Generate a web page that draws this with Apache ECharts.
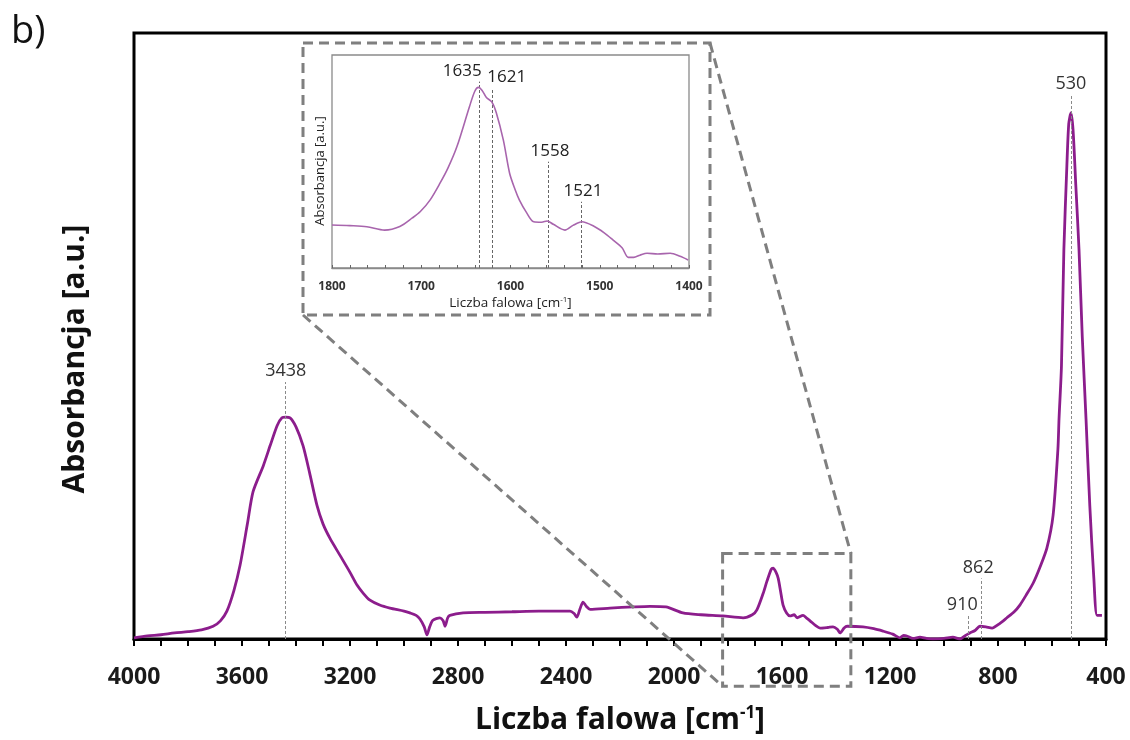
<!DOCTYPE html>
<html>
<head>
<meta charset="utf-8">
<script src="https://cdn.jsdelivr.net/npm/echarts@6/dist/echarts.min.js"></script>
<style>html,body{margin:0;padding:0;background:#fff}#c{width:1130px;height:740px}</style>
</head>
<body>
<div id="c"></div>
<script>
// Main FTIR spectrum: wavenumber [cm-1] and absorbance [a.u.]
const mainWavenumber = [4000,3950,3900,3850,3800,3750,3707,3680,3656,3630,3607,3580,3559,3521,3495,3470,3452,3438,3422,3400,3374,3350,3322,3300,3274,3237,3200,3174,3150,3126,3090,3052,3000,2978,2955,2941,2925,2915,2905,2893,2867,2855,2848,2838,2830,2781,2700,2600,2500,2385,2370,2360,2348,2337,2325,2311,2237,2150,2089,2030,1967,1900,1819,1744,1710,1693,1670,1656,1640,1633,1622,1614,1605,1596,1583,1570,1555,1544,1522,1510,1496,1475,1459,1430,1411,1395,1385,1370,1359,1300,1260,1226,1190,1163,1150,1137,1115,1089,1065,1041,1000,967,941,920,904,885,867,845,822,795,767,740,719,695,670,645,619,596,578,574,565,556,545,538,530,522,512,500,488,474,460,445,433,415];
const mainAbsorbance = [0.002,0.005,0.007,0.010,0.012,0.015,0.021,0.030,0.046,0.080,0.122,0.190,0.243,0.286,0.320,0.352,0.365,0.366,0.365,0.350,0.319,0.275,0.220,0.190,0.166,0.138,0.110,0.089,0.075,0.064,0.056,0.051,0.046,0.043,0.039,0.033,0.020,0.007,0.020,0.031,0.035,0.030,0.021,0.035,0.039,0.043,0.044,0.045,0.046,0.046,0.042,0.036,0.050,0.061,0.054,0.049,0.051,0.053,0.054,0.053,0.043,0.040,0.038,0.035,0.040,0.048,0.075,0.095,0.115,0.117,0.110,0.100,0.078,0.056,0.043,0.038,0.040,0.035,0.039,0.035,0.030,0.022,0.018,0.019,0.020,0.016,0.010,0.018,0.021,0.020,0.017,0.013,0.008,0.002,0.006,0.005,0.001,0.003,0.001,0.000,0.001,0.003,0.000,0.006,0.010,0.014,0.021,0.020,0.018,0.025,0.035,0.045,0.056,0.073,0.092,0.118,0.150,0.204,0.314,0.363,0.450,0.643,0.780,0.850,0.868,0.840,0.750,0.643,0.500,0.363,0.220,0.100,0.039,0.039];

// Inset (1800-1400 cm-1)
const insetWavenumber = [1800,1780,1761,1741,1724,1710,1701,1690,1679,1670,1660,1646,1640,1636,1632,1627,1621,1616,1608,1601,1595,1590,1582,1574,1565,1559,1552,1539,1530,1520,1507,1495,1485,1475,1468,1462,1455,1447,1435,1421,1410,1401];
const insetAbsorbance = [0.202,0.199,0.194,0.178,0.195,0.235,0.265,0.320,0.398,0.470,0.570,0.757,0.830,0.848,0.835,0.800,0.780,0.730,0.600,0.445,0.370,0.319,0.260,0.217,0.215,0.221,0.205,0.178,0.200,0.217,0.197,0.165,0.131,0.095,0.050,0.050,0.060,0.069,0.066,0.069,0.055,0.038];

// Peak annotations: [wavenumber, line top (absorbance units), label dx]
const mainPeaks = [[3438,0.424,0],[910,0.038,-6],[862,0.100,-3],[530,0.898,0]];
const insetPeaks = [[1635,0.875,-17],[1621,0.845,15],[1558,0.499,2],[1521,0.311,2]];

const mainTickLabels = [4000,3600,3200,2800,2400,2000,1600,1200,800,400];
const insetTickLabels = [1800,1700,1600,1500,1400];

const FONT = '"Open Sans", "Noto Sans", sans-serif';

const mainData = mainWavenumber.map((w,i)=>[w, mainAbsorbance[i]]);
const insetData = insetWavenumber.map((w,i)=>[w, insetAbsorbance[i]]);

function peakLines(peaks, fontSize, color){
  return peaks.map(p => [
    {coord:[p[0],0]},
    {coord:[p[0],p[1]], label:{show:true, position:'end', formatter:String(p[0]), offset:[p[2],0], fontSize:fontSize, color:color, fontFamily:FONT, distance:2}}
  ]);
}

const chart = echarts.init(document.getElementById('c'), null, {renderer:'canvas'});
const option = {
  backgroundColor:'#ffffff',
  animation:false,
  grid:[
    {left:134, top:33, right:24, bottom:99, show:true, borderColor:'#000', borderWidth:3, containLabel:false},
    {left:332, top:55, right:441, bottom:472, show:true, borderColor:'#8a8a8a', borderWidth:1.3, backgroundColor:'#fff', z:5}
  ],
  xAxis:[
    {type:'value', gridIndex:0, min:400, max:4000, interval:400, inverse:true,
     axisLine:{show:true, lineStyle:{color:'#000', width:3}},
     axisTick:{show:true, length:7, lineStyle:{color:'#000', width:2}},
     minorTick:{show:true, splitNumber:4, length:7, lineStyle:{color:'#000', width:2}},
     splitLine:{show:false},
     axisLabel:{show:true, margin:27, fontSize:23, fontWeight:'bold', color:'#1a1a1a', fontFamily:FONT,
       formatter: v => mainTickLabels.indexOf(v) >= 0 ? String(v) : ''},
     name:'{a|Liczba falowa [cm}{s|-1}{a|]}', nameLocation:'middle', nameGap:66,
     nameTextStyle:{rich:{a:{fontSize:30, fontWeight:'bold', color:'#111', fontFamily:FONT}, s:{fontSize:17, fontWeight:'bold', color:'#111', fontFamily:FONT, verticalAlign:'top'}}}
    },
    {type:'value', gridIndex:1, min:1400, max:1800, interval:100, inverse:true, z:6,
     axisLine:{show:true, lineStyle:{color:'#8a8a8a', width:1.3}},
     axisTick:{show:true, inside:true, length:3, lineStyle:{color:'#666', width:1}},
     minorTick:{show:true, splitNumber:5, length:3, lineStyle:{color:'#666', width:1}},
     splitLine:{show:false},
     axisLabel:{show:true, margin:13, fontSize:12, fontWeight:'bold', color:'#333', fontFamily:FONT,
       formatter: v => insetTickLabels.indexOf(v) >= 0 ? String(v) : ''},
     name:'{a|Liczba falowa [cm}{s|-1}{a|]}', nameLocation:'middle', nameGap:28,
     nameTextStyle:{rich:{a:{fontSize:13.5, color:'#222', fontFamily:FONT}, s:{fontSize:8, color:'#222', fontFamily:FONT, verticalAlign:'top'}}}
    }
  ],
  yAxis:[
    {type:'value', gridIndex:0, min:0, max:1, axisLine:{show:false}, axisTick:{show:false}, axisLabel:{show:false}, splitLine:{show:false},
     name:'Absorbancja [a.u.]', nameLocation:'middle', nameGap:44, nameRotate:90,
     nameTextStyle:{fontSize:30, fontWeight:'bold', color:'#111', fontFamily:FONT, padding:[0,46,0,0]}},
    {type:'value', gridIndex:1, min:0, max:1, z:6, axisLine:{show:false}, axisTick:{show:false}, axisLabel:{show:false}, splitLine:{show:false},
     name:'Absorbancja [a.u.]', nameLocation:'middle', nameGap:5, nameRotate:90,
     nameTextStyle:{fontSize:13, color:'#222', fontFamily:FONT, padding:[0,19,0,0]}}
  ],
  series:[
    {type:'line', xAxisIndex:0, yAxisIndex:0, data:mainData, showSymbol:false, smooth:0.25,
     lineStyle:{color:'#8c1d8c', width:2.8}, z:3,
     markLine:{silent:true, symbol:'none', animation:false,
       lineStyle:{type:[3,2], color:'#8a8a8a', width:1},
       data:peakLines(mainPeaks, 18, '#333')}},
    {type:'line', xAxisIndex:1, yAxisIndex:1, data:insetData, showSymbol:false, smooth:0.3,
     lineStyle:{color:'#a865ad', width:1.6}, z:7,
     markLine:{silent:true, symbol:'none', animation:false,
       lineStyle:{type:[3,2], color:'#666', width:1},
       data:peakLines(insetPeaks, 17, '#222')}}
  ]
};
chart.setOption(option);

// Zoom boxes and connector lines (decorations)
const p1 = chart.convertToPixel({gridIndex:0}, [1820, 0.141]);
const p2 = chart.convertToPixel({gridIndex:0}, [1345, -0.078]);
const bx0 = p1[0], by0 = p1[1], bx1 = p2[0], by1 = p2[1];
const ix0 = 303, iy0 = 43, ix1 = 710, iy1 = 315;
const dashStyle = {stroke:'#7f7f7f', lineWidth:3, lineDash:[10,6], fill:null};
chart.setOption({
  graphic:[
    {type:'text', left:11, top:13, style:{text:'b)', fontSize:38, fontFamily:FONT, fill:'#111'}},
    {type:'rect', shape:{x:ix0, y:iy0, width:ix1-ix0, height:iy1-iy0}, style:dashStyle, z:10, silent:true},
    {type:'rect', shape:{x:bx0, y:by0, width:bx1-bx0, height:by1-by0}, style:dashStyle, z:10, silent:true},
    {type:'line', shape:{x1:ix0, y1:iy1, x2:bx0, y2:by1}, style:dashStyle, z:10, silent:true},
    {type:'line', shape:{x1:ix1, y1:iy0, x2:bx1, y2:by0}, style:dashStyle, z:10, silent:true}
  ]
});
</script>
</body>
</html>
